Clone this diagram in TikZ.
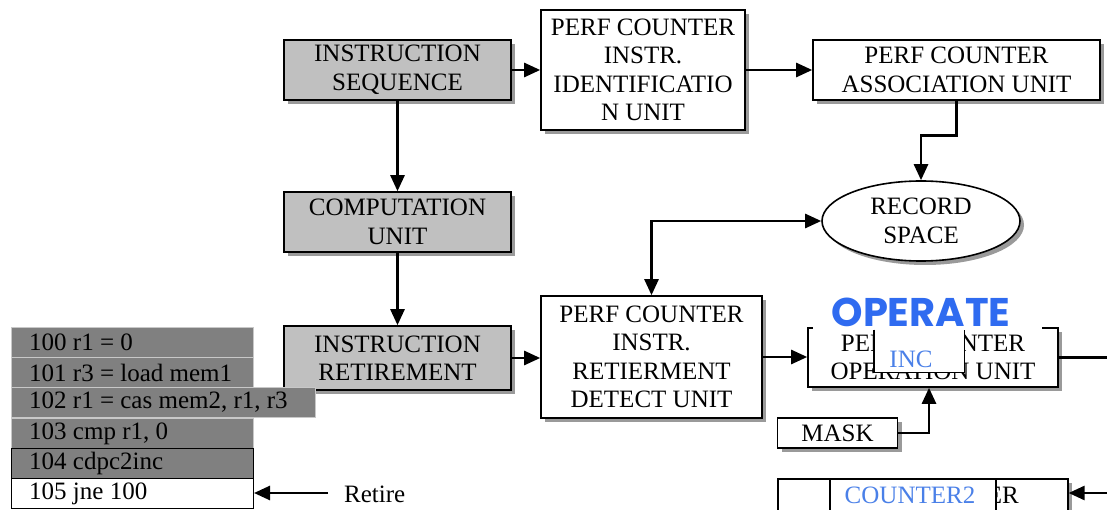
\documentclass[tikz,border=0pt]{standalone}
\usepackage{fontspec}
\setmainfont{Liberation Serif}
\newfontfamily\opfont{Poppins}
\usetikzlibrary{arrows.meta,shadows,shapes.geometric,calc}
\definecolor{boxgray}{HTML}{C0C0C0}
\definecolor{rowgray}{HTML}{808080}
\definecolor{rowedge}{HTML}{C8C8C8}
\definecolor{opblue}{HTML}{2F6BF0}
\definecolor{txtblue}{HTML}{4A80E8}
\definecolor{shadowgray}{HTML}{9A9A9A}
\begin{document}
\begin{tikzpicture}[x=1pt,y=-1pt,
  every node/.style={font=\fontsize{25}{28.5}\selectfont, inner sep=0pt},
  shad/.style={drop shadow={shadow xshift=4pt,shadow yshift=-4pt,fill=shadowgray,opacity=1}},
  unit/.style={draw=black, line width=1.6pt, fill=white, align=center, shad},
  grayunit/.style={unit, fill=boxgray},
  conn/.style={line width=2.6pt, -{Triangle[length=16pt,width=14pt]}},
  plainconn/.style={line width=2.6pt},
  row/.style={draw=rowedge, line width=1pt, fill=rowgray, minimum height=30pt, minimum width=242pt, anchor=north west},
  rowtext/.style={anchor=west},
  bluetext/.style={text=txtblue}
]
\clip (0,0) rectangle (1107,510);
\fill[white] (0,0) rectangle (1107,510);

% main units
\node[grayunit, minimum width=227pt, minimum height=60pt] (seq) at (397.5,70) {INSTRUCTION\\SEQUENCE};
\node[unit, minimum width=204pt, minimum height=120pt] (ident) at (643,70) {PERF COUNTER\\INSTR.\\IDENTIFICATIO\\N UNIT};
\node[unit, minimum width=287pt, minimum height=60pt] (assoc) at (956.5,70) {PERF COUNTER\\ASSOCIATION UNIT};
\node[grayunit, minimum width=227pt, minimum height=60pt] (comp) at (397.5,222) {COMPUTATION\\UNIT};
\node[grayunit, minimum width=227pt, minimum height=64pt] (retire) at (397.5,358) {INSTRUCTION\\RETIREMENT};
\node[unit, minimum width=221pt, minimum height=122pt] (detect) at (651.5,357) {PERF COUNTER\\INSTR.\\RETIERMENT\\DETECT UNIT};
\node[ellipse, draw=black, line width=1.6pt, fill=white, shad, minimum width=198pt, minimum height=80pt, align=center] (rec) at (921,221) {RECORD\\SPACE};
\node[unit, minimum width=250pt, minimum height=59pt] (oper) at (933,357.5) {PERF COUNTER\\OPERATION UNIT};
\node[unit, minimum width=120pt, minimum height=30pt] (mask) at (837.5,433) {MASK};
\node[unit, minimum width=290pt, minimum height=44pt, anchor=north west] (cnt) at (777,478) {};
\node[anchor=east] (er) at (1019,495) {ER};

% free ends
\coordinate (opout) at (1107,357.5);
\coordinate (cntin) at (1107,493);
\coordinate (rstart) at (328,493);

% connectors
\draw[conn] (seq) -- (ident);
\draw[conn] (ident) -- (assoc);
\draw[conn] (seq) -- (comp);
\draw[conn] (comp) -- (retire);
\draw[conn] (retire.east) -- (retire.east -| detect.west);
\draw[conn] (assoc.south) -- ++(0,35) -| (rec.north);
\draw[line width=2.6pt, {Triangle[length=16pt,width=14pt]}-{Triangle[length=16pt,width=14pt]}] (detect.north) |- (rec.west);
\draw[conn] (detect.east) -- (detect.east -| oper.west);
\draw[plainconn] (oper.east) -- (opout);
\draw[conn] (mask.east) -| ($(oper.south)+(-4,0)$);
\draw[conn] (cntin) -- (cnt.east |- cntin);

% OPERATE overlay
\fill[white] (813,286) rectangle (1042,329.6);
\node[font=\opfont\bfseries\fontsize{40}{40}\selectfont, text=opblue] (operate) at (921,312) {OPERATE};
\node[fill=white, minimum width=90pt, minimum height=42.5pt, anchor=north west] (incbox) at (874,329.6) {};
\draw[line width=1.6pt] (incbox.north west) -- (incbox.south west) -- (incbox.south east) -- (incbox.north east);
\node[bluetext] (inc) at (911,359) {INC};

% COUNTER2 overlay
\node[draw=black, line width=1.6pt, fill=white, minimum width=166pt, minimum height=44pt, anchor=north west] (c2box) at (829,478) {};
\node[bluetext] (c2) at (910,495) {COUNTER2};

% instruction listing
\node[row] (r1) at (11,327) {};
\node[row] (r2) at (11,357) {};
\node[row, minimum width=304pt] (r3) at (11,387) {};
\node[row, minimum height=30.5pt] (r4) at (11,418) {};
\node[row, draw=black] (r5) at (11,448) {};
\node[row, draw=black, fill=white] (r6) at (11,478) {};
\node[rowtext] (t1) at ($(r1.west)+(18,0)$) {100 r1 = 0};
\node[rowtext] (t2) at ($(r2.west)+(18,0)$) {101 r3 = load mem1};
\node[rowtext] (t3) at ($(r3.west)+(18,0)$) {102 r1 = cas mem2, r1, r3};
\node[rowtext] (t4) at ($(r4.west)+(18,0)$) {103 cmp r1, 0};
\node[rowtext] (t5) at ($(r5.west)+(18,0)$) {104 cdpc2inc};
\node[rowtext] (t6) at ($(r6.west)+(18,0)$) {105 jne 100};

\node[anchor=west] (ret) at (344,494) {Retire};
\draw[conn] (rstart) -- (r6.east |- rstart);
\end{tikzpicture}
\end{document}
